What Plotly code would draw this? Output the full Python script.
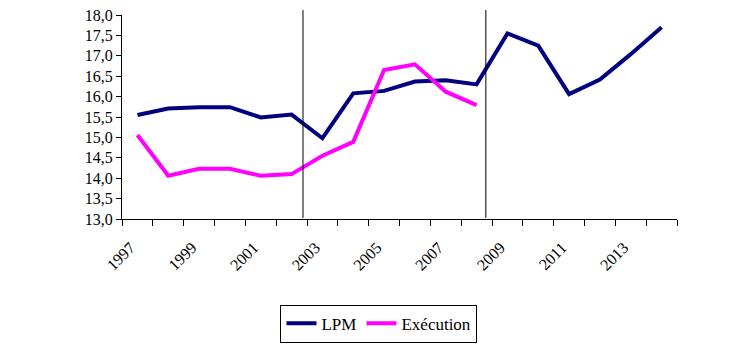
import plotly.graph_objects as go

annees = list(range(1997, 2015))
lpm = [15.55, 15.71, 15.74, 15.74, 15.49, 15.56, 14.98, 16.08, 16.14, 16.37, 16.40, 16.30,
       17.55, 17.25, 16.06, 16.42, 17.04, 17.70]
annees_exec = list(range(1997, 2009))
execution = [15.06, 14.06, 14.23, 14.23, 14.06, 14.10, 14.55, 14.89, 16.65, 16.79, 16.12, 15.79]

y_ticks = [13.0, 13.5, 14.0, 14.5, 15.0, 15.5, 16.0, 16.5, 17.0, 17.5, 18.0]
y_labels = [f"{v:.1f}".replace(".", ",") for v in y_ticks]
x_labels = [str(a) for a in range(1997, 2015, 2)]
periodes = [2002.37, 2008.3]

FONT = "Liberation Serif, Tinos, DejaVu Serif, serif"

fig = go.Figure()
fig.add_trace(go.Scatter(x=annees, y=lpm, mode="lines", name="LPM",
                         line=dict(color="#000080", width=4)))
fig.add_trace(go.Scatter(x=annees_exec, y=execution, mode="lines", name="Exécution",
                         line=dict(color="#FF00FF", width=4)))

for p in periodes:
    fig.add_shape(type="line", xref="x", yref="paper", x0=p, x1=p, y0=0.005, y1=1.025,
                  line=dict(color="black", width=1))

fig.update_xaxes(
    range=[1996.5, 2014.5],
    tickmode="array",
    tickvals=[int(l) for l in x_labels], ticktext=x_labels,
    tickangle=-45, ticks="", automargin=False,
    ticklabelstandoff=12, ticklabelshift=-7, ticklabeloverflow="allow",
    showline=True, linecolor="black", linewidth=1,
    showgrid=False, zeroline=False,
    minor=dict(tickvals=[a - 0.5 for a in annees] + [2014.5], ticks="outside",
               ticklen=6, tickcolor="black", tickwidth=1, showgrid=False),
    tickfont_family=FONT, tickfont_size=16, tickfont_color="black",
)
fig.update_yaxes(
    range=[13.0, 18.0],
    tickmode="array",
    tickvals=y_ticks, ticktext=y_labels, automargin=False,
    ticklabeloverflow="allow",
    ticks="outside", ticklen=5, tickcolor="black",
    showline=True, linecolor="black", linewidth=1,
    showgrid=False, zeroline=False,
    tickfont_family=FONT, tickfont_size=16, tickfont_color="black",
)
fig.update_layout(
    width=739, height=350,
    font=dict(family=FONT, size=16, color="black"),
    margin=dict(l=114, r=70, t=7, b=139, autoexpand=False),
    paper_bgcolor="white", plot_bgcolor="white",
    showlegend=True,
    legend=dict(orientation="h", xref="container", yref="container",
                x=0.502, xanchor="center", y=0.152, yanchor="top",
                bordercolor="black", borderwidth=1,
                font=dict(family=FONT, size=17, color="black")),
)
fig.write_html("out.html")
